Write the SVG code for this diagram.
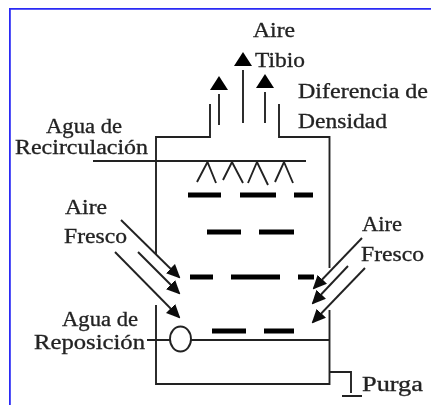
<svg xmlns="http://www.w3.org/2000/svg" width="431" height="405" viewBox="0 0 431 405">
<style>
.t{font-family:"Liberation Serif","Times New Roman",serif;font-size:20px;fill:#222;stroke:#222;stroke-width:.3}
.l{fill:none;stroke:#222;stroke-width:1.9}
.b{stroke:#000;stroke-width:5;fill:none}
</style>
<defs>
<marker id="up" markerUnits="userSpaceOnUse" markerWidth="14" markerHeight="18" refX="-4" refY="9" orient="auto" overflow="visible" viewBox="0 0 14 18"><path d="M14 9L0 18V0Z" fill="#000"/></marker>
<marker id="ah" markerUnits="userSpaceOnUse" markerWidth="14" markerHeight="14" refX="12" refY="6.500" orient="auto" viewBox="0 0 14 13"><path d="M0 0L14 6.500L0 13Z" fill="#111"/></marker>
<filter id="soft" x="0" y="0" width="100%" height="100%"><feGaussianBlur stdDeviation="0.5"/></filter>
</defs>
<rect width="431" height="405" fill="#fff"/>
<g filter="url(#soft)">
<path id="frame" d="M9.500 405V8.500H431" fill="none" stroke="#2a2af5" stroke-width="2.600"/>
<g id="tower">
<path class="l" d="M156 254V137H210V104M279 104V137H329.500V268M329.500 310V384H156V305"/>
<path class="l" d="M93 161H306"/>
<path class="l" d="M197 182L207.500 162L216 183M223 180L232 162L243 183M248 183L257 162L268 185M275 182L284 162L293 183"/>
</g>
<g id="packing">
<path class="b" d="M188 195H221M240 195H276M294 195H313M207 232H241M259 232H294M190 277H213M231 277H280M298 277H314M212 331H246M264 331H294"/>
</g>
<g id="connectors">
<path class="l" d="M219 125V94" marker-end="url(#up)"/>
<path class="l" d="M243 123V70" marker-end="url(#up)"/>
<path class="l" d="M265 123V92" marker-end="url(#up)"/>
<path class="l" d="M121 220L179 277" marker-end="url(#ah)"/>
<path class="l" d="M138 252L179 293" marker-end="url(#ah)"/>
<path class="l" d="M115 252L179 317" marker-end="url(#ah)"/>
<path class="l" d="M362 238L314 288" marker-end="url(#ah)"/>
<path class="l" d="M348 266L313 303" marker-end="url(#ah)"/>
<path class="l" d="M365 268L313 322" marker-end="url(#ah)"/>
<path class="l" d="M147 340H170M191 340H329"/>
<path class="l" d="M329 372H351V393M342 396H362"/>
</g>
<g id="valve"><ellipse class="l" cx="180.500" cy="339" rx="10.500" ry="12.500"/></g>
<g id="labels">
<text class="t" x="253" y="37" textLength="42" lengthAdjust="spacingAndGlyphs">Aire</text>
<text class="t" x="255" y="67" textLength="50" lengthAdjust="spacingAndGlyphs">Tibio</text>
<text class="t" x="298" y="98" textLength="130" lengthAdjust="spacingAndGlyphs">Diferencia de</text>
<text class="t" x="298" y="128" textLength="89" lengthAdjust="spacingAndGlyphs">Densidad</text>
<text class="t" x="46" y="133" textLength="76" lengthAdjust="spacingAndGlyphs">Agua de</text>
<text class="t" x="15" y="154" textLength="133" lengthAdjust="spacingAndGlyphs">Recirculación</text>
<text class="t" x="65" y="214" textLength="42" lengthAdjust="spacingAndGlyphs">Aire</text>
<text class="t" x="64" y="243" textLength="63" lengthAdjust="spacingAndGlyphs">Fresco</text>
<text class="t" x="362" y="231" textLength="40" lengthAdjust="spacingAndGlyphs">Aire</text>
<text class="t" x="361" y="261" textLength="63" lengthAdjust="spacingAndGlyphs">Fresco</text>
<text class="t" x="62" y="326" textLength="76" lengthAdjust="spacingAndGlyphs">Agua de</text>
<text class="t" x="34" y="349" textLength="111" lengthAdjust="spacingAndGlyphs">Reposición</text>
<text class="t" x="362" y="391" textLength="61" lengthAdjust="spacingAndGlyphs">Purga</text>
</g>
</g>
</svg>
